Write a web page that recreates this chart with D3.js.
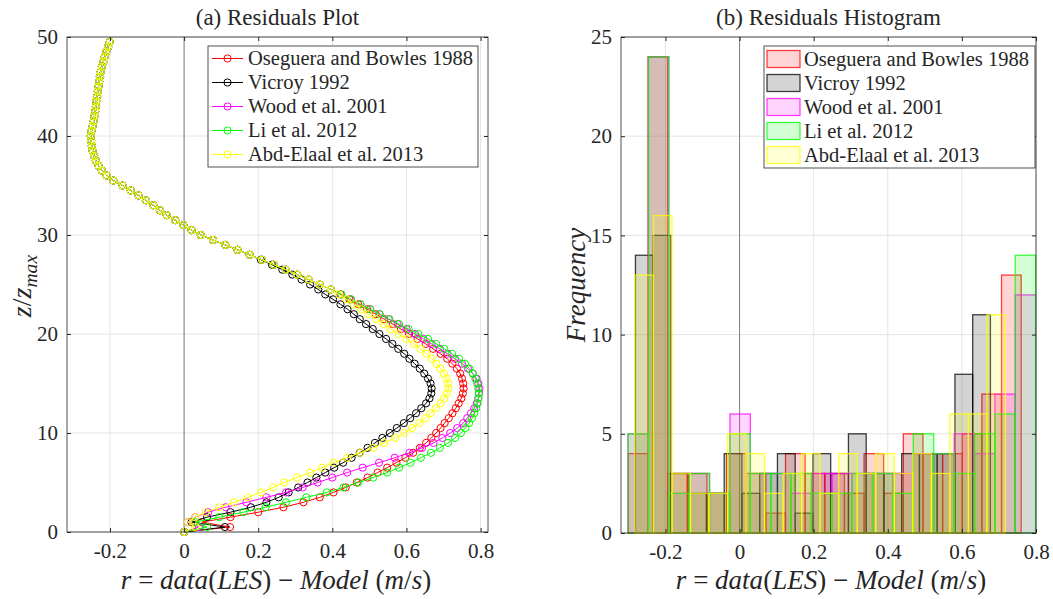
<!DOCTYPE html>
<html>
<head>
<meta charset="utf-8">
<script src="https://cdn.jsdelivr.net/npm/d3@7/dist/d3.min.js"></script>
<style>
  body { margin: 0; background: #fff; }
  svg, svg text { font-family: "Liberation Serif", "DejaVu Serif", serif; }
</style>
</head>
<body>
<svg id="chart" width="1053" height="599"></svg>
<script>
// heights z/z_max of the profile points
const zLevels = [
  0, 0.5, 1, 1.5, 2, 2.5, 3, 3.5, 4, 4.5, 5, 5.5, 6, 6.5, 7, 7.5, 8, 8.5, 9, 9.5,
  10, 10.5, 11, 11.5, 12, 12.5, 13, 13.5, 14, 14.5, 15, 15.5, 16, 16.5, 17, 17.5, 18, 18.5, 19, 19.5,
  20, 20.5, 21, 21.5, 22, 22.5, 23, 23.5, 24, 24.5, 25, 25.5, 26, 26.5, 27, 27.5, 28, 28.5, 29, 29.5,
  30, 30.5, 31, 31.5, 32, 32.5, 33, 33.5, 34, 34.5, 35, 35.5, 36, 36.5, 37, 37.5, 38, 38.5, 39, 39.5,
  40, 40.5, 41, 41.5, 42, 42.5, 43, 43.5, 44, 44.5, 45, 45.5, 46, 46.5, 47, 47.5, 48, 48.5, 49, 49.5
];

// residuals above z = 28, where all five models coincide
const rUpper = [
  0.177, 0.144, 0.111, 0.078, 0.045, 0.02, -0.002, -0.024, -0.047, -0.065,
  -0.083, -0.103, -0.123, -0.144, -0.166, -0.191, -0.209, -0.222, -0.231, -0.238,
  -0.243, -0.247, -0.249, -0.251, -0.252, -0.25, -0.247, -0.244, -0.242, -0.24,
  -0.238, -0.237, -0.235, -0.233, -0.231, -0.229, -0.227, -0.225, -0.222, -0.218,
  -0.214, -0.21, -0.205, -0.201
];

// residuals for z = 0 ... 27.5, one list per model
const rOseguera = [
  0, 0.124, 0.048, 0.125, 0.2, 0.268, 0.322, 0.366, 0.403, 0.436, 0.466, 0.495, 0.522, 0.548,
  0.573, 0.597, 0.618, 0.636, 0.653, 0.667, 0.68, 0.692, 0.703, 0.714, 0.724, 0.733, 0.741, 0.748,
  0.752, 0.754, 0.753, 0.75, 0.745, 0.736, 0.724, 0.71, 0.692, 0.672, 0.652, 0.63, 0.607, 0.585,
  0.563, 0.54, 0.517, 0.494, 0.47, 0.446, 0.422, 0.396, 0.366, 0.336, 0.305, 0.274, 0.242, 0.21
];
const rVicroy = [
  0, 0.11, 0.02, 0.062, 0.125, 0.18, 0.222, 0.255, 0.282, 0.308, 0.333, 0.357, 0.381, 0.405,
  0.429, 0.452, 0.474, 0.495, 0.515, 0.535, 0.555, 0.574, 0.593, 0.61, 0.626, 0.64, 0.653, 0.662,
  0.667, 0.668, 0.665, 0.658, 0.648, 0.636, 0.622, 0.608, 0.594, 0.578, 0.562, 0.545, 0.527, 0.509,
  0.491, 0.474, 0.458, 0.441, 0.422, 0.402, 0.381, 0.362, 0.34, 0.317, 0.292, 0.265, 0.237, 0.207
];
const rWood = [
  0, 0.04, 0.01, 0.03, 0.065, 0.112, 0.168, 0.222, 0.275, 0.32, 0.36, 0.4, 0.44, 0.482,
  0.526, 0.568, 0.608, 0.642, 0.673, 0.697, 0.718, 0.737, 0.753, 0.764, 0.774, 0.783, 0.79, 0.794,
  0.796, 0.797, 0.794, 0.789, 0.779, 0.766, 0.75, 0.731, 0.711, 0.69, 0.668, 0.646, 0.623, 0.6,
  0.576, 0.552, 0.527, 0.502, 0.476, 0.45, 0.424, 0.396, 0.366, 0.336, 0.305, 0.274, 0.242, 0.21
];
const rLi = [
  0, 0.062, 0.03, 0.095, 0.16, 0.22, 0.275, 0.33, 0.385, 0.43, 0.47, 0.51, 0.548, 0.58,
  0.611, 0.639, 0.666, 0.69, 0.712, 0.731, 0.747, 0.759, 0.769, 0.777, 0.783, 0.788, 0.792, 0.794,
  0.795, 0.794, 0.791, 0.786, 0.779, 0.77, 0.758, 0.742, 0.723, 0.702, 0.68, 0.658, 0.632, 0.606,
  0.58, 0.554, 0.528, 0.502, 0.476, 0.45, 0.424, 0.396, 0.366, 0.336, 0.305, 0.274, 0.242, 0.21
];
const rAbdElaal = [
  0, 0.03, 0.01, 0.03, 0.058, 0.095, 0.135, 0.172, 0.208, 0.24, 0.27, 0.305, 0.34, 0.372,
  0.403, 0.44, 0.475, 0.51, 0.54, 0.57, 0.595, 0.615, 0.635, 0.651, 0.665, 0.679, 0.692, 0.702,
  0.709, 0.713, 0.712, 0.708, 0.701, 0.692, 0.681, 0.668, 0.654, 0.638, 0.62, 0.6, 0.579, 0.558,
  0.538, 0.518, 0.498, 0.478, 0.458, 0.438, 0.418, 0.396, 0.366, 0.336, 0.305, 0.274, 0.242, 0.21
];

// histogram: first bin edge, bin width and counts per model
const binStart = [-0.300, -0.281, -0.301, -0.301, -0.2825];
const binWidth = [0.053, 0.0479, 0.055, 0.055, 0.05];
const countsOseguera = [4, 24, 3, 3, 2, 4, 3, 1, 4, 3, 3, 2, 4, 2, 5, 4, 4, 5, 7, 13];
const countsVicroy   = [14, 15, 3, 2, 2, 4, 2, 3, 4, 1, 4, 3, 5, 3, 3, 4, 4, 4, 8, 11];
const countsWood     = [5, 24, 2, 3, 2, 6, 3, 3, 2, 3, 3, 3, 3, 3, 4, 4, 5, 4, 7, 12];
const countsLi       = [5, 24, 2, 3, 2, 5, 3, 3, 3, 2, 2, 3, 3, 2, 5, 4, 3, 5, 6, 14];
const countsAbdElaal = [13, 16, 3, 2, 2, 5, 4, 2, 3, 4, 2, 4, 3, 4, 3, 4, 3, 6, 6, 11];

const names = ['Oseguera and Bowles 1988', 'Vicroy 1992', 'Wood et al. 2001', 'Li et al. 2012', 'Abd-Elaal et al. 2013'];
const colors = ['#ff0000', '#000000', '#ff00ff', '#00ff00', '#ffff00'];

const xTicks = [-0.2, 0, 0.2, 0.4, 0.6, 0.8];
const zTicks = [0, 10, 20, 30, 40, 50];
const fTicks = [0, 5, 10, 15, 20, 25];

const lows = [rOseguera, rVicroy, rWood, rLi, rAbdElaal];
const counts = [countsOseguera, countsVicroy, countsWood, countsLi, countsAbdElaal];
const series = names.map((name, i) => ({
  name,
  color: colors[i],
  points: lows[i].concat(rUpper).map((r, j) => ({r, z: zLevels[j]})),
  bins: counts[i].map((c, j) => ({
    x0: binStart[i] + j * binWidth[i],
    x1: binStart[i] + (j + 1) * binWidth[i],
    c
  }))
}));

const svg = d3.select('#chart');
const ink = '#262626';
const serif = '"Liberation Serif", "DejaVu Serif", serif';

const xA = d3.scaleLinear().domain([-0.316, 0.82]).range([67, 488]);
const yA = d3.scaleLinear().domain([0, 50]).range([532, 37]);
const xB = d3.scaleLinear().domain([-0.32, 0.8]).range([621, 1036]);
const yB = d3.scaleLinear().domain([0, 25]).range([533, 37]);

function grid(x, y, xt, yt) {
  const g = svg.append('g').attr('stroke', '#e4e4e4').attr('stroke-width', 1);
  const [l, r] = x.range(), [b, t] = y.range();
  g.selectAll('.gx').data(xt).join('line')
    .attr('x1', d => x(d)).attr('x2', d => x(d))
    .attr('y1', t).attr('y2', b);
  g.selectAll('.gy').data(yt).join('line')
    .attr('y1', d => y(d)).attr('y2', d => y(d))
    .attr('x1', l).attr('x2', r);
  // vertical reference at r = 0
  svg.append('line')
    .attr('x1', x(0)).attr('x2', x(0)).attr('y1', t).attr('y2', b)
    .attr('stroke', '#808080').attr('stroke-width', 1);
}

function frame(x, y, xt, yt) {
  const [l, r] = x.range(), [b, t] = y.range();
  const style = g => {
    g.select('.domain').remove();
    g.attr('font-family', serif).attr('font-size', 21);
    g.selectAll('line').attr('stroke', ink);
    g.selectAll('text').attr('fill', ink);
  };
  svg.append('g').attr('transform', `translate(0,${b})`)
    .call(d3.axisBottom(x).tickValues(xt).tickSize(-4).tickPadding(11).tickFormat(d => String(d)))
    .call(style);
  svg.append('g').attr('transform', `translate(0,${t})`)
    .call(d3.axisTop(x).tickValues(xt).tickSize(-4).tickFormat(''))
    .call(style);
  svg.append('g').attr('transform', `translate(${l},0)`)
    .call(d3.axisLeft(y).tickValues(yt).tickSize(-4).tickPadding(9).tickFormat(d => String(d)))
    .call(style);
  svg.append('g').attr('transform', `translate(${r},0)`)
    .call(d3.axisRight(y).tickValues(yt).tickSize(-4).tickFormat(''))
    .call(style);
  svg.append('rect')
    .attr('x', l).attr('y', t).attr('width', r - l).attr('height', b - t)
    .attr('fill', 'none').attr('stroke', ink).attr('stroke-width', 0.8);
}

// text with italic (math) pieces
function mathText(sel, parts) {
  sel.attr('font-family', serif);
  parts.forEach(([s, it, sub]) => {
    const ts = sel.append('tspan').text(s)
      .attr('font-family', serif)
      .attr('font-style', it ? 'italic' : 'normal');
    if (sub) ts.attr('font-size', '0.7em').attr('dy', 6);
  });
  return sel;
}

function xLabel(cx) {
  mathText(svg.append('text')
    .attr('x', cx).attr('y', 589).attr('text-anchor', 'middle')
    .attr('font-size', 27).attr('fill', ink), [
    ['r', 1], [' = ', 0], ['data', 1], ['(', 0], ['LES', 1], [')', 0],
    [' \u2212 ', 0], ['Model', 1], [' (', 0], ['m', 1], ['/', 0], ['s', 1], [')', 0]
  ]);
}

// ---------- (a) residual profiles ----------
grid(xA, yA, xTicks, zTicks);

const line = d3.line().x(d => xA(d.r)).y(d => yA(d.z));
series.forEach(s => {
  const g = svg.append('g');
  g.append('path')
    .attr('d', line(s.points))
    .attr('fill', 'none').attr('stroke', s.color).attr('stroke-width', 1);
  g.selectAll('circle').data(s.points).join('circle')
    .attr('cx', d => xA(d.r)).attr('cy', d => yA(d.z)).attr('r', 3.6)
    .attr('fill', 'none').attr('stroke', s.color).attr('stroke-width', 1);
});

frame(xA, yA, xTicks, zTicks);

svg.append('text')
  .attr('x', 277.5).attr('y', 25).attr('text-anchor', 'middle')
  .attr('font-family', serif).attr('font-size', 23).attr('fill', ink)
  .text('(a) Residuals Plot');
xLabel(276);
mathText(svg.append('text')
  .attr('transform', 'translate(31,286) rotate(-90)').attr('text-anchor', 'middle')
  .attr('font-size', 28).attr('fill', ink), [
  ['z', 1], ['/', 0], ['z', 1], ['max', 1, true]
]);

const legA = svg.append('g').attr('font-family', serif);
legA.append('rect')
  .attr('x', 208).attr('y', 46).attr('width', 270).attr('height', 121)
  .attr('fill', '#fff').attr('stroke', ink).attr('stroke-width', 0.8);
series.forEach((s, i) => {
  const cy = 58.5 + i * 24;
  legA.append('line')
    .attr('x1', 212).attr('x2', 243).attr('y1', cy).attr('y2', cy)
    .attr('stroke', s.color).attr('stroke-width', 1);
  legA.append('circle')
    .attr('cx', 227.5).attr('cy', cy).attr('r', 3.6)
    .attr('fill', 'none').attr('stroke', s.color);
  legA.append('text')
    .attr('x', 248).attr('y', cy + 6.5).attr('font-size', 20.5).attr('fill', ink)
    .text(s.name);
});

// ---------- (b) residual histograms ----------
grid(xB, yB, xTicks, fTicks);

series.forEach(s => {
  svg.append('g').selectAll('rect').data(s.bins).join('rect')
    .attr('x', d => xB(d.x0)).attr('width', d => xB(d.x1) - xB(d.x0))
    .attr('y', d => yB(d.c)).attr('height', d => yB(0) - yB(d.c))
    .attr('fill', s.color).attr('fill-opacity', 0.17)
    .attr('stroke', s.color).attr('stroke-opacity', 0.75).attr('stroke-width', 1.3);
});

frame(xB, yB, xTicks, fTicks);

svg.append('text')
  .attr('x', 828.5).attr('y', 25).attr('text-anchor', 'middle')
  .attr('font-family', serif).attr('font-size', 23).attr('fill', ink)
  .text('(b) Residuals Histogram');
xLabel(831);
mathText(svg.append('text')
  .attr('transform', 'translate(585,285) rotate(-90)').attr('text-anchor', 'middle')
  .attr('font-size', 27).attr('fill', ink), [
  ['Frequency', 1]
]);

const legB = svg.append('g').attr('font-family', serif);
legB.append('rect')
  .attr('x', 764).attr('y', 46).attr('width', 271).attr('height', 122)
  .attr('fill', '#fff').attr('stroke', ink).attr('stroke-width', 0.8);
series.forEach((s, i) => {
  const cy = 59 + i * 24;
  legB.append('rect')
    .attr('x', 767).attr('y', cy - 8.5).attr('width', 33).attr('height', 17)
    .attr('fill', s.color).attr('fill-opacity', 0.17)
    .attr('stroke', s.color).attr('stroke-opacity', 0.75).attr('stroke-width', 1.3);
  legB.append('text')
    .attr('x', 804).attr('y', cy + 6.5).attr('font-size', 20.5).attr('fill', ink)
    .text(s.name);
});
</script>
</body>
</html>
